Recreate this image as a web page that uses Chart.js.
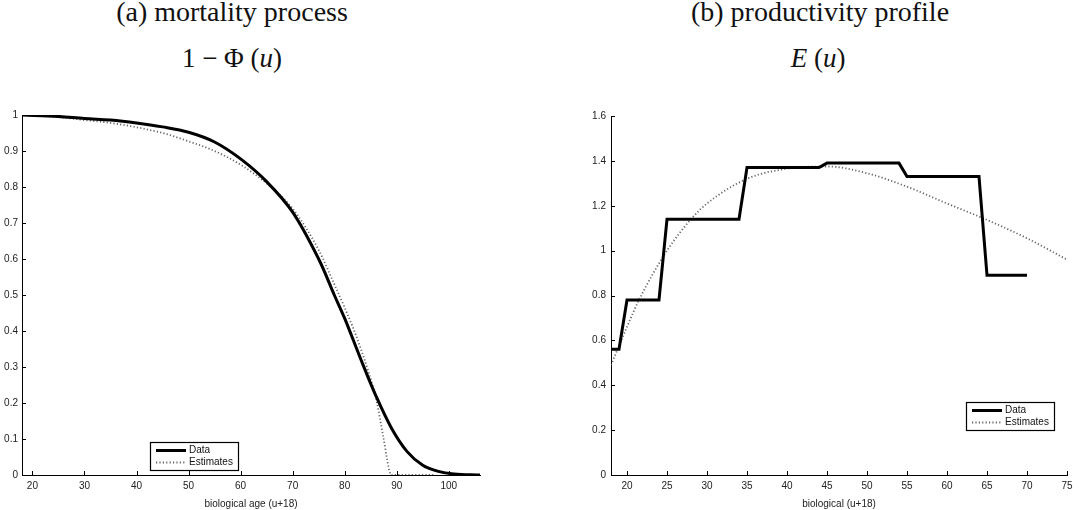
<!DOCTYPE html>
<html>
<head>
<meta charset="utf-8">
<script src="https://cdn.jsdelivr.net/npm/chart.js@4"></script>
<style>
  body { margin: 0; background: #fff; width: 1079px; height: 510px; position: relative; overflow: hidden; }
  .ttl { position: absolute; font-family: "Liberation Serif", serif; font-size: 27px; line-height: 27px; color: #111; white-space: nowrap; transform: translateX(-50%); }
  .ttl.big { font-size: 28px; }
  .ttl i { font-style: italic; }
  canvas { position: absolute; }
</style>
</head>
<body>
<div class="ttl big" style="left:232px; top:-2px">(a) mortality process</div>
<div class="ttl" style="left:232px; top:45px">1 − Φ (<i>u</i>)</div>
<div class="ttl big" style="left:820px; top:-2px">(b) productivity profile</div>
<div class="ttl" style="left:818px; top:45px"><i>E</i> (<i>u</i>)</div>
<canvas id="mortality" width="500" height="405" style="left:0; top:105px"></canvas>
<canvas id="productivity" width="519" height="405" style="left:560px; top:105px"></canvas>
<script>
// (a) survival 1 - Phi(u)
const ageData = [18, 25, 30, 35, 40, 45, 50, 55, 60, 65, 70, 75, 78, 80, 83, 86, 89, 92, 95, 98, 101, 106];
const survData = [1.0, 0.996, 0.99, 0.986, 0.978, 0.967, 0.952, 0.925, 0.878, 0.815, 0.73, 0.60, 0.50, 0.435, 0.325, 0.22, 0.13, 0.065, 0.027, 0.01, 0.003, 0];
const ageEst = [18, 25, 30, 35, 40, 45, 50, 55, 60, 65, 70, 75, 78, 80, 83, 86.2, 87.4, 89, 97];
const survEst = [1.0, 0.994, 0.986, 0.978, 0.966, 0.95, 0.927, 0.9, 0.862, 0.81, 0.74, 0.625, 0.53, 0.465, 0.355, 0.2, 0.107, 0, 0];

// (b) productivity E(u)
const ageProd = [18, 19, 20, 24, 25, 34, 35, 44, 45, 54, 55, 64, 65, 70];
const prodData = [0.56, 0.56, 0.78, 0.78, 1.14, 1.14, 1.37, 1.37, 1.39, 1.39, 1.33, 1.33, 0.89, 0.89];
const ageProdEst = [18, 20, 21.5, 25, 28, 30, 35, 40, 45, 50, 55, 60, 65, 70, 75];
const prodEst = [0.49, 0.66, 0.78, 1.0, 1.14, 1.21, 1.32, 1.365, 1.375, 1.345, 1.285, 1.21, 1.137, 1.055, 0.96];

const xTicksA = [20, 30, 40, 50, 60, 70, 80, 90, 100];
const yTicksA = [0, 0.1, 0.2, 0.3, 0.4, 0.5, 0.6, 0.7, 0.8, 0.9, 1];
const xTicksB = [20, 25, 30, 35, 40, 45, 50, 55, 60, 65, 70, 75];
const yTicksB = [0, 0.2, 0.4, 0.6, 0.8, 1, 1.2, 1.4, 1.6];

const seriesNames = ['Data', 'Estimates'];

const pts = (xs, ys) => xs.map((x, i) => ({x: x, y: ys[i]}));

// matlab style ticks pointing into the plot
const innerTicks = {
  id: 'innerTicks',
  afterDraw(chart) {
    const {ctx, chartArea: a, scales: {x, y}} = chart;
    ctx.save();
    ctx.strokeStyle = '#000';
    ctx.lineWidth = 1;
    ctx.beginPath();
    x.ticks.forEach(t => {
      const p = Math.round(x.getPixelForValue(t.value)) + 0.5;
      ctx.moveTo(p, a.bottom);
      ctx.lineTo(p, a.bottom - 4);
    });
    y.ticks.forEach(t => {
      const p = Math.round(y.getPixelForValue(t.value)) + 0.5;
      ctx.moveTo(a.left, p);
      ctx.lineTo(a.left + 4, p);
    });
    ctx.stroke();
    ctx.restore();
  }
};

const boxLegend = {
  id: 'boxLegend',
  afterDraw(chart, args, opts) {
    const {ctx, chartArea: a} = chart;
    const x0 = a.left + opts.dx, y0 = a.top + opts.dy;
    ctx.save();
    ctx.fillStyle = '#fff';
    ctx.fillRect(x0, y0, opts.w, opts.h);
    ctx.strokeStyle = '#000';
    ctx.lineWidth = 1.2;
    ctx.strokeRect(x0 + 0.5, y0 + 0.5, opts.w, opts.h);
    ctx.font = '10px "Liberation Sans", Arial, sans-serif';
    ctx.textBaseline = 'middle';
    chart.data.datasets.forEach((ds, i) => {
      const ly = y0 + 8.5 + i * 12;
      ctx.strokeStyle = ds.borderColor;
      ctx.lineWidth = ds.borderWidth;
      ctx.setLineDash(ds.borderDash || []);
      ctx.beginPath();
      ctx.moveTo(x0 + 6, ly);
      ctx.lineTo(x0 + 36, ly);
      ctx.stroke();
      ctx.setLineDash([]);
      ctx.fillStyle = '#111';
      ctx.fillText(ds.label, x0 + 39, ly);
    });
    ctx.restore();
  }
};

function makeChart(id, cfg) {
  const tickFont = {family: '"Liberation Sans", Arial, sans-serif', size: 10};
  return new Chart(document.getElementById(id), {
    type: 'line',
    data: {
      datasets: [{
        label: seriesNames[0],
        data: cfg.data,
        borderColor: '#000',
        borderWidth: 3,
        pointRadius: 0,
        tension: cfg.smoothData ? 0.35 : 0
      }, {
        label: seriesNames[1],
        data: cfg.est,
        borderColor: '#666',
        borderWidth: 1.8,
        borderDash: [1.2, 2.2],
        pointRadius: 0,
        cubicInterpolationMode: 'monotone'
      }]
    },
    options: {
      responsive: false,
      animation: false,
      devicePixelRatio: 1,
      layout: {padding: cfg.padding},
      plugins: {
        legend: {display: false},
        tooltip: {enabled: false},
        boxLegend: cfg.legend
      },
      scales: {
        x: {
          type: 'linear',
          min: cfg.xMin,
          max: cfg.xMax,
          afterBuildTicks: s => { s.ticks = cfg.xTicks.map(v => ({value: v})); },
          afterFit: s => { s.height = 35; },
          ticks: {font: tickFont, color: '#222', padding: 5, maxRotation: 0, callback: v => String(v)},
          grid: {drawOnChartArea: false, drawTicks: false},
          border: {display: true, color: '#000', width: 1},
          title: {display: true, text: cfg.xTitle, font: {family: '"Liberation Sans", Arial, sans-serif', size: 10}, color: '#222', padding: {top: 1, bottom: 0}}
        },
        y: {
          type: 'linear',
          min: cfg.yMin,
          max: cfg.yMax,
          afterBuildTicks: s => { s.ticks = cfg.yTicks.map(v => ({value: v})); },
          afterFit: s => { s.width = cfg.yWidth; },
          ticks: {font: tickFont, color: '#222', padding: cfg.yPad, callback: v => String(v)},
          grid: {drawOnChartArea: false, drawTicks: false},
          border: {display: true, color: '#000', width: 1}
        }
      }
    },
    plugins: [innerTicks, boxLegend]
  });
}

makeChart('mortality', {
  data: pts(ageData, survData),
  est: pts(ageEst, survEst),
  smoothData: true,
  xMin: 18, xMax: 106, yMin: 0, yMax: 1,
  xTicks: xTicksA, yTicks: yTicksA,
  xTitle: 'biological age (u+18)',
  yWidth: 22, yPad: 4,
  padding: {top: 10, right: 20, left: 0, bottom: 0},
  legend: {dx: 128, dy: 327, w: 88, h: 28}
});

makeChart('productivity', {
  data: pts(ageProd, prodData),
  est: pts(ageProdEst, prodEst),
  smoothData: false,
  xMin: 18, xMax: 75, yMin: 0, yMax: 1.6,
  xTicks: xTicksB, yTicks: yTicksB,
  xTitle: 'biological (u+18)',
  yWidth: 51, yPad: 5,
  padding: {top: 11, right: 12, left: 0, bottom: 0},
  legend: {dx: 355, dy: 286, w: 88, h: 28}
});
</script>
</body>
</html>
